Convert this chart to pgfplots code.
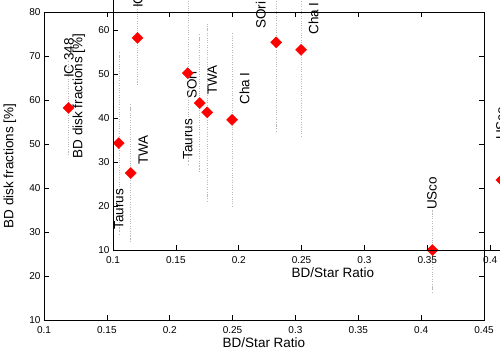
\documentclass[border=0pt]{standalone}
\usepackage{fontspec}
\setmainfont{Liberation Sans}
\usepackage{pgfplots}
\usepackage{pgfplotstable}
\pgfplotsset{compat=1.18}

\newcommand\lbl{\fontsize{13.5}{16}\selectfont}
\newcommand\tck{\fontsize{10}{12}\selectfont}

% BD/Star ratio, disk fraction, error
\pgfplotstableread{
x       y     e
0.1195  58.2  10
0.1595  50.2  20
0.1690  43.4  15
0.2298  57.2  19.5
0.2496  55.5  19
0.4090  25.9  9
}\bdtable

\pgfplotsset{
  bdax/.style={
    scale only axis, width=440pt, height=308pt,
    xmin=0.1, xmax=0.45, ymin=10, ymax=80,
    xtick={0.1,0.15,0.2,0.25,0.3,0.35,0.4,0.45},
    xticklabels={0.1,0.15,0.2,0.25,0.3,0.35,0.4,0.45},
    ytick={10,20,30,40,50,60,70,80},
    yticklabels={10,20,30,40,50,60,70,80},
    tick align=inside, major tick length=5pt,
    every tick/.style={black, line width=0.6pt},
    axis line style={line width=0.9pt},
    ticklabel style={font=\tck},
    xticklabel style={yshift=-3pt},
    xlabel={BD/Star Ratio}, ylabel={BD disk fractions [\%]},
    label style={font=\lbl},
    xlabel style={at={(axis description cs:0.5,-0.075)}, anchor=center},
    ylabel style={at={(axis description cs:-0.0773,0.5)}, anchor=center, rotate=0},
    clip=false,
  },
}

\newcommand\plotbody{%
  \addplot[only marks, mark=square*, mark size=3.9pt,
    mark options={rotate=45, fill=red, draw=red},
    error bars/.cd, y dir=both, y explicit,
    error bar style={dotted, gray!55, line width=0.6pt},
    error mark options={gray!55, dotted, mark size=3pt, line width=0.6pt}]
    table[x=x, y=y, y error=e] {\bdtable};
  \node[rotate=90, anchor=west, inner sep=0pt, font=\lbl] at (axis cs:0.1198,65.0) {IC 348};
  \node[rotate=90, anchor=west, inner sep=0pt, font=\lbl] at (axis cs:0.1595,30.5) {Taurus};
  \node[rotate=90, anchor=west, inner sep=0pt, font=\lbl] at (axis cs:0.1790,45.2) {TWA};
  \node[rotate=90, anchor=west, inner sep=0pt, font=\lbl] at (axis cs:0.2175,60.2) {SOri};
  \node[rotate=90, anchor=west, inner sep=0pt, font=\lbl] at (axis cs:0.2595,58.9) {Cha I};
  \node[rotate=90, anchor=west, inner sep=0pt, font=\lbl] at (axis cs:0.4087,35.0) {USco};
}

\begin{document}
\begin{tikzpicture}
\begin{axis}[bdax, at={(44pt,30pt)}, anchor=south west]
\plotbody
\end{axis}
\begin{axis}[bdax, at={(113pt,100pt)}, anchor=south west]
\plotbody
\end{axis}
\pgfresetboundingbox
\path[use as bounding box] (0,0) rectangle (500pt,350pt);
\end{tikzpicture}
\end{document}
